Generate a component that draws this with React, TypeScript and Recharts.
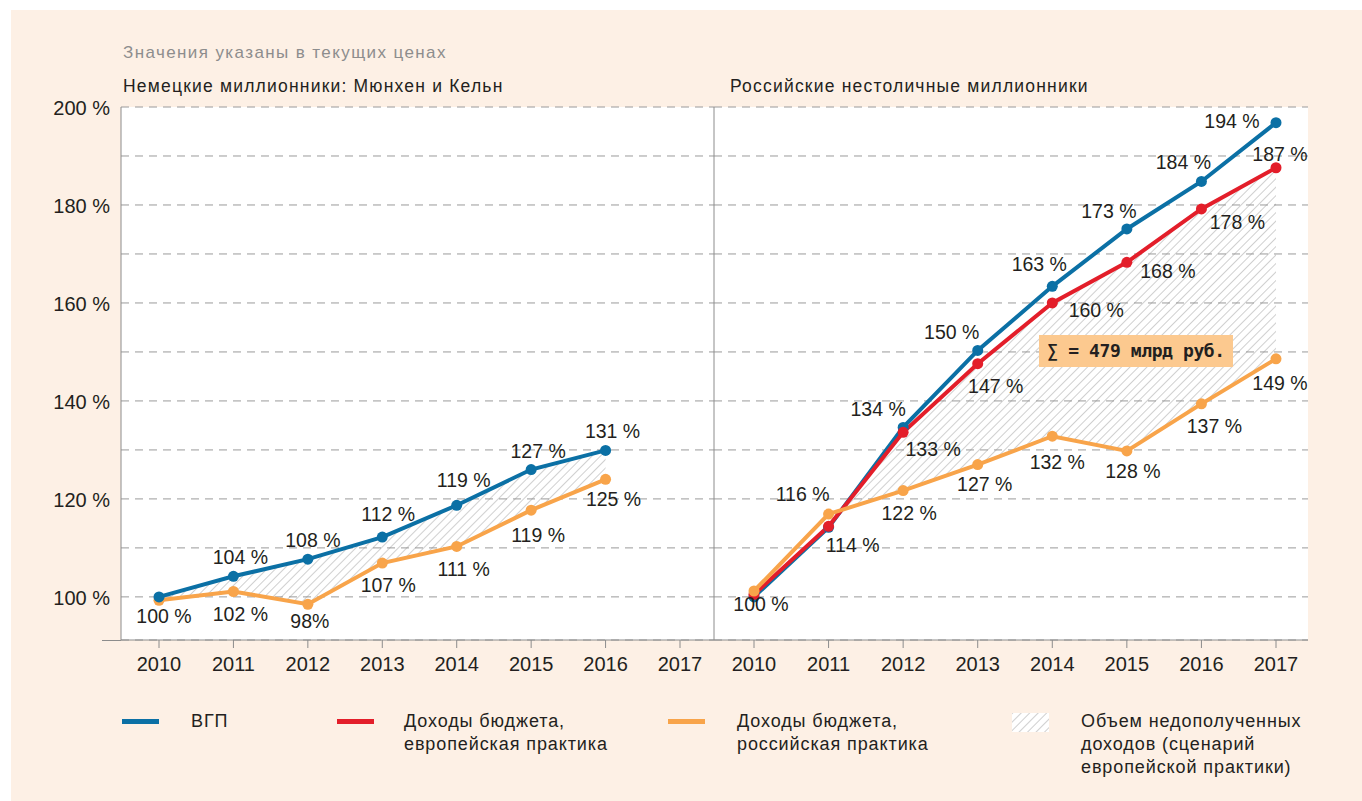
import React from "react";
import { ComposedChart, Line, Area, XAxis, YAxis, CartesianGrid } from "recharts";

const years = [2010, 2011, 2012, 2013, 2014, 2015, 2016, 2017];

// Немецкие миллионники: Мюнхен и Кельн (данных за 2017 нет)
const deYears = [2010, 2011, 2012, 2013, 2014, 2015, 2016];
const deGrp = [100, 104.2, 107.7, 112.2, 118.7, 126.0, 129.9];
const deBudgetRu = [99.3, 101.1, 98.5, 106.9, 110.3, 117.7, 124.0];
const deGrpLabels = ["", "104 %", "108 %", "112 %", "119 %", "127 %", "131 %"];
const deBudgetRuLabels = ["100 %", "102 %", "98%", "107 %", "111 %", "119 %", "125 %"];

// Российские нестоличные миллионники
const ruGrp = [100, 114.2, 134.6, 150.3, 163.4, 175.1, 184.8, 196.8];
const ruBudgetEu = [100.5, 114.4, 133.6, 147.6, 160.0, 168.3, 179.2, 187.6];
const ruBudgetRu = [101.2, 116.9, 121.7, 127.0, 132.8, 129.8, 139.4, 148.6];
const ruGrpLabels = ["", "", "134 %", "150 %", "163 %", "173 %", "184 %", "194 %"];
const ruBudgetEuLabels = ["", "114 %", "133 %", "147 %", "160 %", "168 %", "178 %", "187 %"];
const ruBudgetRuLabels = ["100 %", "116 %", "122 %", "127 %", "132 %", "128 %", "137 %", "149 %"];

const yTicks = [100, 110, 120, 130, 140, 150, 160, 170, 180, 190, 200];

// label offsets from the point, px
const deGrpOffsets = [[0, 0], [7, -19], [5, -19], [6, -23], [7, -25], [7, -19], [7, -19]];
const deBudgetRuOffsets = [[5, 16], [7, 22], [2, 17], [6, 22], [7, 23], [7, 25], [8, 20]];
const ruGrpOffsets = [[0, 0], [0, 0], [-25, -18], [-26, -18], [-13, -22], [-18, -18], [-18, -19], [-44, -2]];
const ruBudgetEuOffsets = [[0, 0], [24, 19], [30, 17], [18, 22], [44, 7], [41, 9], [36, 13], [4, -14]];
const ruBudgetRuOffsets = [[7, 13], [-26, -20], [6, 22], [7, 19], [5, 26], [6, 20], [13, 22], [4, 24]];

const BLUE = "#0b70a5";
const RED = "#e31e2a";
const ORANGE = "#f8a44a";
const BG = "#fdf0e5";
const INK = "#231f20";
const AXIS = "#8c8c8c";
const FONT = "'Liberation Sans', Arial, sans-serif";

const deRows = deYears.map((year, i) => ({ year, grp: deGrp[i], ru: deBudgetRu[i] }));
const ruRows = years.map((year, i) => ({ year, grp: ruGrp[i], eu: ruBudgetEu[i], ru: ruBudgetRu[i] }));

const pointWithLabel = (color: string, labels: string[], offsets: number[][]) => (p: any) => {
  const { cx, cy, index } = p;
  if (cx == null || cy == null || isNaN(cy)) return <g key={`e-${index}`} />;
  const text = labels[index];
  const [dx, dy] = offsets[index] || [0, 0];
  return (
    <g key={`p-${index}`}>
      <circle cx={cx} cy={cy} r={5.5} fill={color} />
      {text ? (
        <text
          x={cx + dx}
          y={cy + dy}
          textAnchor="middle"
          dominantBaseline="central"
          fontSize={19.5}
          fontFamily={FONT}
          fill={INK}
        >
          {text}
        </text>
      ) : null}
    </g>
  );
};

const yearTick = (p: any) => (
  <text x={p.x} y={p.y + 16} textAnchor="middle" dominantBaseline="central" fontSize={20} fontFamily={FONT} fill={INK}>
    {p.payload.value}
  </text>
);

const percentTick = (p: any) =>
  p.payload.value % 20 === 0 ? (
    <text x={p.x} y={p.y + 1} textAnchor="end" dominantBaseline="central" fontSize={20} fontFamily={FONT} fill={INK}>
      {p.payload.value} %
    </text>
  ) : (
    <g />
  );

const emptyTick = () => <g />;

const hatch = (id: string) => (
  <defs>
    <pattern id={id} width={6} height={6} patternUnits="userSpaceOnUse" patternTransform="rotate(45)">
      <line x1={0} y1={0} x2={0} y2={6} stroke="#8e8e8e" strokeWidth={1.4} />
    </pattern>
  </defs>
);

const legendText: React.CSSProperties = {
  position: "absolute",
  fontFamily: FONT,
  fontSize: 18,
  letterSpacing: 0.9,
  lineHeight: "23px",
  color: INK,
  whiteSpace: "pre",
};

export default function App() {
  return (
    <div style={{ position: "absolute", left: 0, top: 0, width: 1362, height: 801, background: "#fff", overflow: "hidden" }}>
      <div style={{ position: "absolute", left: 11, top: 10, right: 0, bottom: 0, background: BG }} />

      <div style={{ position: "absolute", left: 123, top: 43, fontFamily: FONT, fontSize: 17, letterSpacing: 1.4, color: "#8d8d8d" }}>
        Значения указаны в текущих ценах
      </div>
      <div style={{ position: "absolute", left: 123, top: 76, fontFamily: FONT, fontSize: 17.5, letterSpacing: 1.2, color: INK }}>
        Немецкие миллионники: Мюнхен и Кельн
      </div>
      <div style={{ position: "absolute", left: 730, top: 76, fontFamily: FONT, fontSize: 17.5, letterSpacing: 1.2, color: INK }}>
        Российские нестоличные миллионники
      </div>

      {/* Germany */}
      <div style={{ position: "absolute", left: 0, top: 97 }}>
        <ComposedChart width={714} height={600} data={deRows} margin={{ top: 10, right: 0, left: 0, bottom: 0 }} style={{ overflow: "visible" }}>
          {hatch("hatchDe")}
          <CartesianGrid vertical={false} stroke="#9a9a9a" strokeDasharray="8 6" fill="#fff" />
          <XAxis
            type="number"
            dataKey="year"
            domain={[2010, 2017]}
            ticks={years}
            padding={{ left: 38, right: 34 }}
            height={57}
            stroke={AXIS}
            tickSize={8}
            tickMargin={0}
            tick={yearTick}
          />
          <YAxis
            type="number"
            domain={[91.2, 200]}
            ticks={yTicks}
            width={121}
            stroke={AXIS}
            tickLine={false}
            tickSize={0}
            tickMargin={11}
            tick={percentTick}
          />
          <Area
            dataKey={(d: any) => [d.ru, d.grp]}
            fill="url(#hatchDe)"
            stroke="none"
            isAnimationActive={false}
            dot={false}
            activeDot={false}
          />
          <Line
            dataKey="ru"
            stroke={ORANGE}
            strokeWidth={4}
            dot={pointWithLabel(ORANGE, deBudgetRuLabels, deBudgetRuOffsets)}
            activeDot={false}
            isAnimationActive={false}
          />
          <Line
            dataKey="grp"
            stroke={BLUE}
            strokeWidth={4}
            dot={pointWithLabel(BLUE, deGrpLabels, deGrpOffsets)}
            activeDot={false}
            isAnimationActive={false}
          />
        </ComposedChart>
      </div>

      {/* Russia */}
      <div style={{ position: "absolute", left: 712, top: 97 }}>
        <ComposedChart width={646} height={600} data={ruRows} margin={{ top: 10, right: 50, left: 0, bottom: 0 }} style={{ overflow: "visible" }}>
          {hatch("hatchRu")}
          <CartesianGrid vertical={false} stroke="#9a9a9a" strokeDasharray="8 6" fill="#fff" />
          <XAxis
            type="number"
            dataKey="year"
            domain={[2010, 2017]}
            ticks={years}
            padding={{ left: 40, right: 32 }}
            height={57}
            stroke={AXIS}
            tickSize={8}
            tickMargin={0}
            tick={yearTick}
          />
          <YAxis
            type="number"
            domain={[91.2, 200]}
            ticks={yTicks}
            width={2}
            stroke={AXIS}
            tickLine={false}
            tickSize={0}
            tick={emptyTick}
          />
          <Area
            dataKey={(d: any) => [d.ru, d.eu]}
            fill="url(#hatchRu)"
            stroke="none"
            isAnimationActive={false}
            dot={false}
            activeDot={false}
          />
          <Line
            dataKey="grp"
            stroke={BLUE}
            strokeWidth={4}
            dot={pointWithLabel(BLUE, ruGrpLabels, ruGrpOffsets)}
            activeDot={false}
            isAnimationActive={false}
          />
          <Line
            dataKey="eu"
            stroke={RED}
            strokeWidth={4}
            dot={pointWithLabel(RED, ruBudgetEuLabels, ruBudgetEuOffsets)}
            activeDot={false}
            isAnimationActive={false}
          />
          <Line
            dataKey="ru"
            stroke={ORANGE}
            strokeWidth={4}
            dot={pointWithLabel(ORANGE, ruBudgetRuLabels, ruBudgetRuOffsets)}
            activeDot={false}
            isAnimationActive={false}
          />
        </ComposedChart>
      </div>

      {/* axis line stub left of the y axis */}
      <div style={{ position: "absolute", left: 102, top: 640, width: 19, height: 1, background: AXIS }} />

      {/* sum annotation */}
      <div
        style={{
          position: "absolute",
          left: 1039,
          top: 335,
          width: 194,
          height: 32,
          background: "#fcc98f",
          fontFamily: "'DejaVu Sans Mono', monospace",
          fontSize: 18,
          fontWeight: "bold",
          letterSpacing: -0.4,
          lineHeight: "32px",
          textAlign: "center",
          color: INK,
        }}
      >
        ∑ = 479 млрд руб.
      </div>

      {/* legend */}
      <div style={{ position: "absolute", left: 122, top: 719, width: 37, height: 5, background: BLUE }} />
      <div style={{ ...legendText, left: 191, top: 710 }}>ВГП</div>
      <div style={{ position: "absolute", left: 337, top: 719, width: 37, height: 5, background: RED }} />
      <div style={{ ...legendText, left: 404, top: 710 }}>{"Доходы бюджета,\nевропейская практика"}</div>
      <div style={{ position: "absolute", left: 668, top: 719, width: 37, height: 5, background: ORANGE }} />
      <div style={{ ...legendText, left: 737, top: 710 }}>{"Доходы бюджета,\nроссийская практика"}</div>
      <svg style={{ position: "absolute", left: 1012, top: 713 }} width={37} height={19}>
        <defs>
          <pattern id="hatchLegend" width={6} height={6} patternUnits="userSpaceOnUse" patternTransform="rotate(45)">
            <line x1={0} y1={0} x2={0} y2={6} stroke="#b4b4b4" strokeWidth={1.3} />
          </pattern>
        </defs>
        <rect width={37} height={19} fill="#fff" />
        <rect width={37} height={19} fill="url(#hatchLegend)" />
      </svg>
      <div style={{ ...legendText, left: 1081, top: 710 }}>
        {"Объем недополученных\nдоходов (сценарий\nевропейской практики)"}
      </div>
    </div>
  );
}
